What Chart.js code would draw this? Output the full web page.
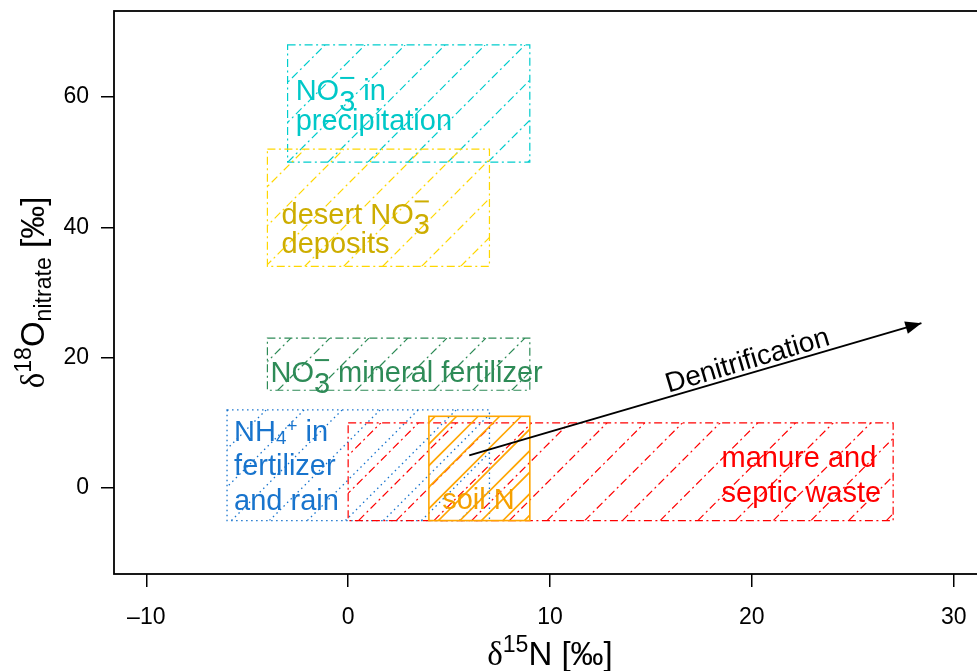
<!doctype html>
<html lang="en">
<head>
<meta charset="utf-8" />
<title>Nitrate sources: d15N vs d18O</title>
<script src="https://cdn.jsdelivr.net/npm/chart.js@4.4.4/dist/chart.umd.min.js"></script>
<style>
  html, body { margin: 0; padding: 0; background: #fff; overflow: hidden; }
  #wrap { width: 1000px; height: 671px; }
</style>
</head>
<body>
<div id="wrap"><canvas id="chart" width="1000" height="671"></canvas></div>
<script>
// source fields (per mil)
const sources = ["NO3- in precipitation", "desert NO3- deposits", "NO3- mineral fertilizer",
                 "NH4+ in fertilizer and rain", "manure and septic waste", "soil N"];
const n15Low  = [-3, -4, -4, -6,  0, 4];
const n15High = [ 9,  7,  9,  7, 27, 9];
const o18Low  = [50, 34, 15, -5, -5, -5];
const o18High = [68, 52, 23, 12, 10, 11];

// denitrification trend arrow (start -> end)
const arrowN15 = [6, 28.4];
const arrowO18 = [5, 25.3];

const xTicks = [-10, 0, 10, 20, 30];
const yTicks = [0, 20, 40, 60];

const FONT = '"Liberation Sans", Arial, sans-serif';
const SERIF = '"Liberation Serif", "DejaVu Serif", serif';
const DOTDASH = [8, 3.5, 2, 3.5];
const DOTTED = [1.5, 3.5];

// drawing style for each source box, same order as above
const STYLE = [
  { line: "#00CDCD", text: "#00C8C8", dash: DOTDASH, gap: 40, phase: 10, width: 1.2 },
  { line: "#FFD700", text: "#CDAD00", dash: DOTDASH, gap: 39, phase: 25, width: 1.2 },
  { line: "#2E8B57", text: "#2E8B57", dash: DOTDASH, gap: 39, phase: 5, width: 1.2 },
  { line: "#1874CD", text: "#1874CD", dash: DOTTED,  gap: 38, phase: 30, width: 1.3 },
  { line: "#FF0000", text: "#FF0000", dash: DOTDASH, gap: 37.7, phase: 12, width: 1.2 },
  { line: "#FFA500", text: "#F5A000", dash: [],      gap: 21.5, phase: 13, width: 1.6 },
];

// label lines: [x, y] anchor (left, baseline) in data units plus rich text parts
const LABELS = [
  [[-2.6, 59.5, ["NO", { ion: "3" }, " in"]], [-2.6, 54.9, ["precipitation"]]],
  [[-3.3, 40.55, ["desert NO", { ion: "3" }]], [-3.3, 36.0, ["deposits"]]],
  [[-3.85, 16.2, ["NO", { ion: "3" }, " mineral fertilizer"]]],
  [[-5.65, 7.16, ["NH", { sub: "4", sup: "+" }, " in"]], [-5.65, 2.04, ["fertilizer"]], [-5.65, -3.38, ["and rain"]]],
  [[18.5, 3.16, ["manure and"]], [18.5, -2.21, ["septic waste"]]],
  [[4.66, -3.23, ["soil N"]]],
];
const LABEL_SIZE = 29;

function drawRich(ctx, parts, x, y, size, color) {
  ctx.fillStyle = color;
  ctx.strokeStyle = color;
  ctx.textAlign = "left";
  ctx.textBaseline = "alphabetic";
  for (const p of parts) {
    if (typeof p === "string") {
      ctx.font = `${size}px ${FONT}`;
      ctx.fillText(p, x, y);
      x += ctx.measureText(p).width;
    } else if (p.ion) {
      // subscript digit with the charge bar stacked above it
      ctx.font = `${size}px ${FONT}`;
      const w = ctx.measureText(p.ion).width;
      ctx.fillText(p.ion, x, y + size * 0.37);
      ctx.setLineDash([]);
      ctx.lineWidth = 2;
      ctx.beginPath();
      ctx.moveTo(x + 1, y - size * 0.77);
      ctx.lineTo(x + w - 1, y - size * 0.77);
      ctx.stroke();
      x += w;
    } else {
      const s = size * 0.65;
      ctx.font = `${s}px ${FONT}`;
      ctx.fillText(p.sub, x, y + size * 0.08);
      const w = ctx.measureText(p.sub).width;
      ctx.fillText(p.sup, x + w, y - size * 0.32);
      x += w + ctx.measureText(p.sup).width;
    }
  }
}

function hatch(ctx, color, l, t, r, b, gap, phase) {
  // lines x + y = c, rising to the right
  let c = Math.ceil((l + t - phase) / gap) * gap + phase;
  for (; c <= r + b; c += gap) {
    ctx.strokeStyle = color;
    ctx.beginPath();
    ctx.moveTo(c - b, b);
    ctx.lineTo(c - t, t);
    ctx.stroke();
  }
}

// delta-notation title: d + superscript + rest (+ optional subscript)
function deltaTitle(ctx, sup, main, sub, tail, size) {
  const s = size * 0.7;
  const pieces = [
    { t: "\u03b4", f: `${size}px ${SERIF}`, dy: 0 },
    { t: sup, f: `${s}px ${FONT}`, dy: -size * 0.38 },
    { t: main, f: `${size}px ${FONT}`, dy: 0 },
  ];
  if (sub) pieces.push({ t: sub, f: `${s}px ${FONT}`, dy: size * 0.22 });
  pieces.push({ t: tail, f: `${size}px ${FONT}`, dy: 0 });
  let total = 0;
  for (const p of pieces) { ctx.font = p.f; p.w = ctx.measureText(p.t).width; total += p.w; }
  let x = -total / 2;
  ctx.fillStyle = "#000";
  ctx.textAlign = "left";
  ctx.textBaseline = "alphabetic";
  for (const p of pieces) { ctx.font = p.f; ctx.fillText(p.t, x, p.dy); x += p.w; }
}

const sourcePlugin = {
  id: "sources",
  beforeDatasetsDraw(chart) {
    const { ctx, scales: { x, y } } = chart;
    sources.forEach((name, i) => {
      const st = STYLE[i];
      const l = x.getPixelForValue(n15Low[i]), r = x.getPixelForValue(n15High[i]);
      const t = y.getPixelForValue(o18High[i]), b = y.getPixelForValue(o18Low[i]);
      ctx.save();
      ctx.lineWidth = st.width;
      ctx.setLineDash(st.dash);
      ctx.beginPath();
      ctx.rect(l, t, r - l, b - t);
      ctx.clip();
      hatch(ctx, st.line, l, t, r, b, st.gap, st.phase);
      ctx.restore();
      ctx.save();
      ctx.strokeStyle = st.line;
      ctx.lineWidth = st.width;
      ctx.setLineDash(st.dash);
      ctx.strokeRect(l, t, r - l, b - t);
      ctx.restore();
    });
    ctx.save();
    LABELS.forEach((lines, i) => {
      lines.forEach(([lx, ly, parts]) => {
        drawRich(ctx, parts, x.getPixelForValue(lx), y.getPixelForValue(ly), LABEL_SIZE, STYLE[i].text);
      });
    });
    ctx.restore();
  },
  afterDatasetsDraw(chart) {
    const { ctx, chartArea: a, scales: { x, y } } = chart;
    // arrow head
    const x0 = x.getPixelForValue(arrowN15[0]), y0 = y.getPixelForValue(arrowO18[0]);
    const x1 = x.getPixelForValue(arrowN15[1]), y1 = y.getPixelForValue(arrowO18[1]);
    const ang = Math.atan2(y1 - y0, x1 - x0);
    ctx.save();
    ctx.translate(x1, y1);
    ctx.rotate(ang);
    ctx.fillStyle = "#000";
    ctx.beginPath();
    ctx.moveTo(0, 0);
    ctx.lineTo(-16, -6.5);
    ctx.lineTo(-16, 6.5);
    ctx.closePath();
    ctx.fill();
    ctx.restore();

    // process label along the arrow
    ctx.save();
    ctx.translate(x.getPixelForValue(19.9), y.getPixelForValue(18.3));
    ctx.rotate(-16.5 * Math.PI / 180);
    ctx.fillStyle = "#000";
    ctx.font = `28px ${FONT}`;
    ctx.textAlign = "center";
    ctx.textBaseline = "alphabetic";
    ctx.fillText("Denitrification", 0, 0);
    ctx.restore();

    // plot frame
    ctx.save();
    ctx.strokeStyle = "#000";
    ctx.lineWidth = 1.8;
    ctx.strokeRect(a.left, a.top, a.right - a.left, a.bottom - a.top);
    ctx.restore();

    // axis titles
    ctx.save();
    ctx.translate((a.left + a.right) / 2, 665);
    deltaTitle(ctx, "15", "N", "", " [\u2030]", 33);
    ctx.restore();
    ctx.save();
    ctx.translate(44, (a.top + a.bottom) / 2);
    ctx.rotate(-Math.PI / 2);
    deltaTitle(ctx, "18", "O", "nitrate", " [\u2030]", 33);
    ctx.restore();
  },
};

const tickFont = { size: 23, family: FONT };

new Chart(document.getElementById("chart").getContext("2d"), {
  type: "scatter",
  data: {
    datasets: [{
      label: "Denitrification",
      data: arrowN15.map((v, i) => ({ x: v, y: arrowO18[i] })),
      showLine: true,
      borderColor: "#000",
      borderWidth: 2,
      pointRadius: 0,
    }],
  },
  options: {
    responsive: false,
    animation: false,
    devicePixelRatio: 1,
    layout: { padding: { top: 11, right: 14, left: 0, bottom: 0 } },
    plugins: { legend: { display: false }, tooltip: { enabled: false } },
    scales: {
      x: {
        type: "linear", min: -11.6, max: 31.6,
        afterBuildTicks: (s) => { s.ticks = xTicks.map((v) => ({ value: v })); },
        afterFit: (s) => { s.height = 97; s.paddingLeft = 0; s.paddingRight = 0; },
        ticks: { color: "#000", font: tickFont, padding: 17, autoSkip: false, maxRotation: 0,
                 callback: (v) => String(v).replace("-", "\u2013") },
        grid: { drawOnChartArea: false, drawTicks: true, tickLength: 13, color: "#000", lineWidth: 1.5 },
        border: { display: false },
      },
      y: {
        type: "linear", min: -13.2, max: 73.2,
        afterBuildTicks: (s) => { s.ticks = yTicks.map((v) => ({ value: v })); },
        afterFit: (s) => { s.width = 114; s.paddingTop = 0; s.paddingBottom = 0; },
        ticks: { color: "#000", font: tickFont, padding: 12, autoSkip: false },
        grid: { drawOnChartArea: false, drawTicks: true, tickLength: 13, color: "#000", lineWidth: 1.5 },
        border: { display: false },
      },
    },
  },
  plugins: [sourcePlugin],
});
</script>
</body>
</html>
